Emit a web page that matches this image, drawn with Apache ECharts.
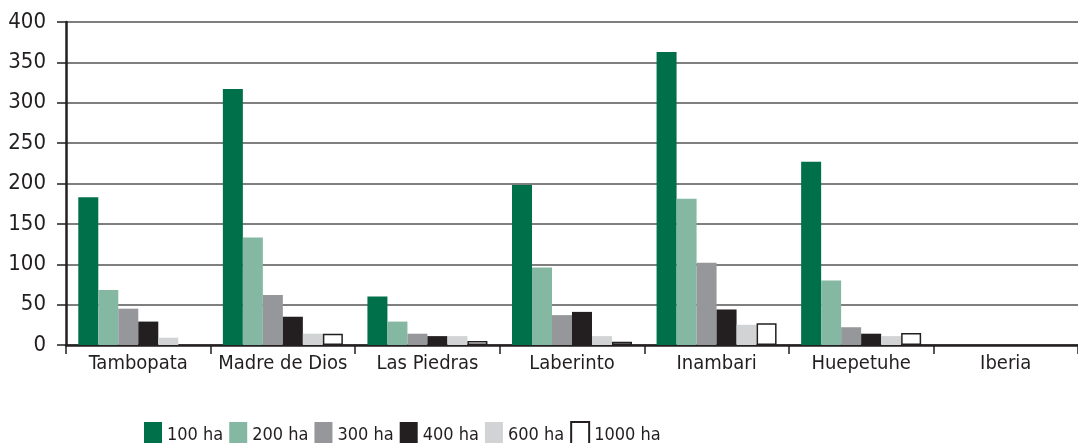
<!DOCTYPE html>
<html>
<head>
<meta charset="utf-8">
<script src="https://cdn.jsdelivr.net/npm/echarts@6/dist/echarts.min.js"></script>
<style>
  html, body { margin: 0; padding: 0; background: #fff; }
  #chart { width: 1078px; height: 443px; }
</style>
</head>
<body>
<div id="chart"></div>
<script>
var categories = ['Tambopata', 'Madre de Dios', 'Las Piedras', 'Laberinto', 'Inambari', 'Huepetuhe', 'Iberia'];
var seriesNames = ['100 ha', '200 ha', '300 ha', '400 ha', '600 ha', '1000 ha'];
var ha100 = [183, 317, 60, 198, 363, 227, 0];
var ha200 = [68, 133, 29, 96, 181, 80, 0];
var ha300 = [45, 62, 14, 37, 102, 22, 0];
var ha400 = [29, 35, 11, 41, 44, 14, 0];
var ha600 = [9, 14, 11, 11, 25, 11, 0];
var ha1000 = [0, 14, 5, 4, 27, 15, 0];
var yTicks = [0, 50, 100, 150, 200, 250, 300, 350, 400];

var font = "'Liberation Sans Narrow', 'DejaVu Sans Condensed', sans-serif";
var colors = ['#00704a', '#85b8a3', '#96979b', '#231f20', '#d1d3d4', '#ffffff'];
var allData = [ha100, ha200, ha300, ha400, ha600, ha1000];

var chartDom = document.getElementById('chart');
var myChart = echarts.init(chartDom);
var option;

var series = seriesNames.map(function (name, i) {
  return {
    name: name,
    type: 'bar',
    // zero bars are not drawn (no outline on the axis)
    data: allData[i].map(function (v) { return v === 0 ? '-' : v; }),
    barWidth: 20,
    barGap: '0%',
    itemStyle: {
      color: colors[i],
      borderColor: i === 5 ? '#231f20' : colors[i],
      borderWidth: i === 5 ? 1.5 : 0
    }
  };
});

option = {
  animation: false,
  grid: { left: 66, right: -3, top: 22, bottom: 98 },
  legend: {
    data: seriesNames,
    icon: 'rect',
    top: 416,
    left: 139,
    itemWidth: 18,
    itemHeight: 26,
    itemGap: 6,
    textStyle: { fontFamily: font, fontSize: 18, color: '#231f20' }
  },
  xAxis: {
    type: 'category',
    data: categories,
    axisLine: { lineStyle: { color: '#231f20', width: 2.5 } },
    axisTick: { show: true, length: 9, lineStyle: { color: '#231f20', width: 1.5 } },
    axisLabel: { interval: 0, fontFamily: font, fontSize: 20, color: '#231f20', margin: 9 }
  },
  yAxis: {
    type: 'value',
    min: yTicks[0],
    max: yTicks[yTicks.length - 1],
    interval: 50,
    axisLine: { show: true, lineStyle: { color: '#231f20', width: 2.5 } },
    axisTick: { show: true, length: 9, lineStyle: { color: '#231f20', width: 1.5 } },
    axisLabel: { fontFamily: font, fontSize: 22, color: '#231f20', margin: 20 },
    splitLine: { lineStyle: { color: '#555555', width: 1.5 } }
  },
  series: series
};

option && myChart.setOption(option);
</script>
</body>
</html>
